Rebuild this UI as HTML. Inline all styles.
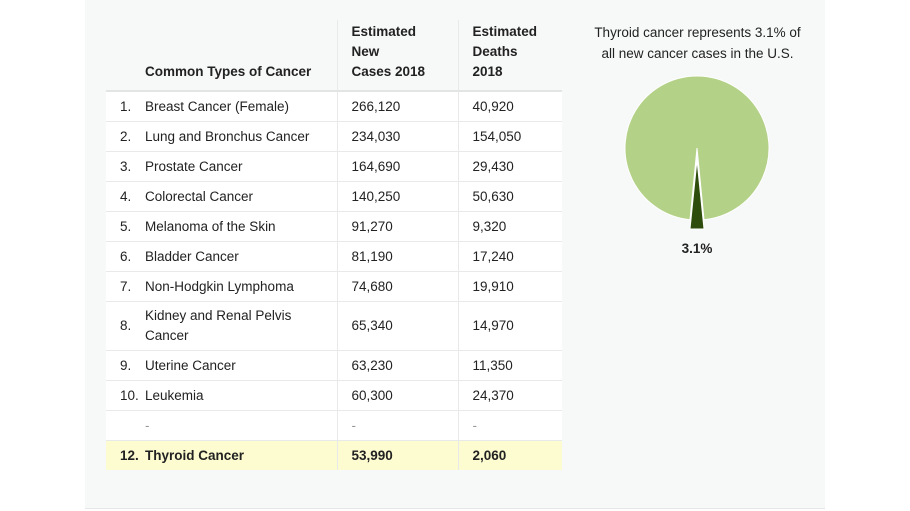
<!DOCTYPE html>
<html><head><style>
body{margin:0;width:910px;height:511px;background:#fff;font-family:"Liberation Sans",sans-serif;position:relative;overflow:hidden}
.panel{position:absolute;left:85px;top:0;width:740px;height:508px;background:#f7f8f8;border-bottom:1px solid #e6e8e8}
table{position:absolute;left:106px;top:20px;border-collapse:collapse;font-size:13.5px;color:#222;table-layout:fixed;width:456px}
td,th{padding:0;vertical-align:middle;text-align:left}
th{font-weight:bold;vertical-align:bottom;padding-bottom:8px;line-height:20px}
thead tr{height:71px}
tbody tr{height:30px;background:#fff;border-top:1px solid #e8eaea}
thead tr{border-bottom:2px solid #e3e5e5}
td.n{text-align:right}
td.n span{display:inline-block;width:25px;text-align:left}
.c2,.c3{padding-left:14px;border-left:1px solid #e8eaea}
tr.hl{background:#fdfcd0;font-weight:bold}
.tall td{line-height:20px}
.title{position:absolute;left:585px;top:22px;width:225px;text-align:center;font-size:13.5px;line-height:21px;color:#222}
.lbl{position:absolute;left:667px;top:241px;width:60px;text-align:center;font-weight:bold;font-size:13.5px;color:#222}
</style></head><body>
<div class="panel"></div>
<table>
<colgroup><col style="width:39px"><col style="width:192px"><col style="width:121px"><col style="width:104px"></colgroup>
<thead><tr><th></th><th>Common Types of Cancer</th><th class="c2">Estimated<br>New<br>Cases 2018</th><th class="c3">Estimated<br>Deaths<br>2018</th></tr></thead>
<tbody>
<tr><td class="n"><span>1.</span></td><td>Breast Cancer (Female)</td><td class="c2">266,120</td><td class="c3">40,920</td></tr>
<tr><td class="n"><span>2.</span></td><td>Lung and Bronchus Cancer</td><td class="c2">234,030</td><td class="c3">154,050</td></tr>
<tr><td class="n"><span>3.</span></td><td>Prostate Cancer</td><td class="c2">164,690</td><td class="c3">29,430</td></tr>
<tr><td class="n"><span>4.</span></td><td>Colorectal Cancer</td><td class="c2">140,250</td><td class="c3">50,630</td></tr>
<tr><td class="n"><span>5.</span></td><td>Melanoma of the Skin</td><td class="c2">91,270</td><td class="c3">9,320</td></tr>
<tr><td class="n"><span>6.</span></td><td>Bladder Cancer</td><td class="c2">81,190</td><td class="c3">17,240</td></tr>
<tr><td class="n"><span>7.</span></td><td>Non-Hodgkin Lymphoma</td><td class="c2">74,680</td><td class="c3">19,910</td></tr>
<tr class="tall" style="height:49px"><td class="n"><span>8.</span></td><td>Kidney and Renal Pelvis<br>Cancer</td><td class="c2">65,340</td><td class="c3">14,970</td></tr>
<tr><td class="n"><span>9.</span></td><td>Uterine Cancer</td><td class="c2">63,230</td><td class="c3">11,350</td></tr>
<tr><td class="n"><span>10.</span></td><td>Leukemia</td><td class="c2">60,300</td><td class="c3">24,370</td></tr>
<tr style="color:#999"><td class="n"><span></span></td><td>-</td><td class="c2">-</td><td class="c3">-</td></tr>
<tr class="hl"><td class="n"><span>12.</span></td><td>Thyroid Cancer</td><td class="c2">53,990</td><td class="c3">2,060</td></tr>
</tbody></table>
<div class="title">Thyroid cancer represents 3.1% of<br>all new cancer cases in the U.S.</div>
<svg style="position:absolute;left:0;top:0" width="910" height="511">
<path d="M697,148 L704,219.7 A72,72 0 1 0 690,219.7 Z" fill="#b3d187" stroke="#fff" stroke-width="1"/>
<path d="M697,160 L704,229 L690,229 Z" fill="#2e4d0c" stroke="#fff" stroke-width="1"/>
</svg>
<div class="lbl">3.1%</div>
</body></html>
